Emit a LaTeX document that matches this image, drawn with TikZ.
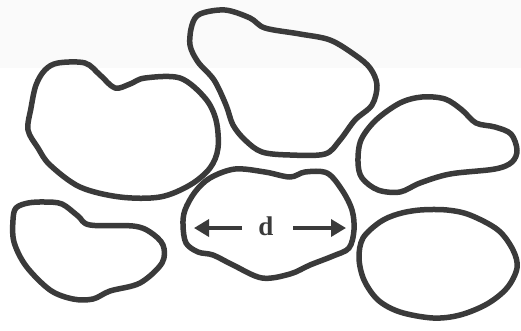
\documentclass[tikz,border=0pt]{standalone}
\usepackage{fontspec}
\setmainfont{Liberation Serif}
\usetikzlibrary{arrows.meta}
\definecolor{ink}{HTML}{3A3A3A}
\tikzset{
  blob/.style={draw=ink, line width=5.5pt, line join=round},
  arr/.style={draw=ink, line width=3.5pt, -{Triangle[length=15pt,width=17pt]}},
}
\begin{document}
\begin{tikzpicture}[x=1pt,y=-1pt]
\useasboundingbox (0,0) rectangle (521,330);
\fill[black!2] (0,0) rectangle (521,68);
% blob 1
\draw[blob] plot[smooth cycle, tension=0.55] coordinates {(58,63) (85,63) (100,75) (115,88) (130,84) (145,78) (180,78) (205,98) (216,120) (218,148) (210,168) (190,185) (160,197) (120,197) (80,187) (50,165) (38,148) (28,130) (31,108) (36,85) (45,70)};
% blob 2
\draw[blob] plot[smooth cycle, tension=0.55] coordinates {(200,14) (225,10) (250,18) (265,28) (300,34) (330,40) (355,55) (370,68) (377,85) (372,105) (355,120) (340,140) (325,154) (290,155) (262,152) (245,140) (233,125) (226,105) (214,80) (198,62) (190,45) (192,25)};
% blob 3
\draw[blob] plot[smooth cycle, tension=0.55] coordinates {(358,162) (361,140) (376,120) (400,103) (422,97) (445,99) (462,110) (476,123) (495,127) (511,134) (517,150) (512,162) (495,169) (450,174) (420,183) (400,192) (378,190) (362,178)};
% blob 4
\draw[blob] plot[smooth cycle, tension=0.55] coordinates {(16,208) (28,203) (45,202) (62,204) (78,216) (90,225) (133,226) (150,232) (163,245) (162,263) (140,283) (110,291) (93,299) (73,299) (50,290) (26,266) (14,242) (13,220)};
% blob 5
\draw[blob] plot[smooth cycle, tension=0.55] coordinates {(185,210) (195,192) (210,178) (235,169) (265,172) (290,177) (305,172) (327,173) (342,190) (352,210) (354,230) (349,248) (333,256) (310,265) (290,274) (262,278) (233,265) (213,255) (198,252) (186,243) (183,225)};
% blob 6
\draw[blob] plot[smooth cycle, tension=0.55] coordinates {(380,222) (398,214) (420,210) (447,210) (470,215) (498,230) (513,250) (517,268) (507,288) (487,304) (460,315) (433,318) (400,312) (378,300) (364,280) (359,258) (363,238)};
% label and arrows
\node[text=ink, font=\fontsize{27}{28}\selectfont\bfseries] (d) at (266,226) {d};
\coordinate (la) at (242,228);
\coordinate (lb) at (194,228);
\coordinate (ra) at (293,228);
\coordinate (rb) at (346,228);
\draw[arr] (la) -- (lb);
\draw[arr] (ra) -- (rb);
\end{tikzpicture}
\end{document}
